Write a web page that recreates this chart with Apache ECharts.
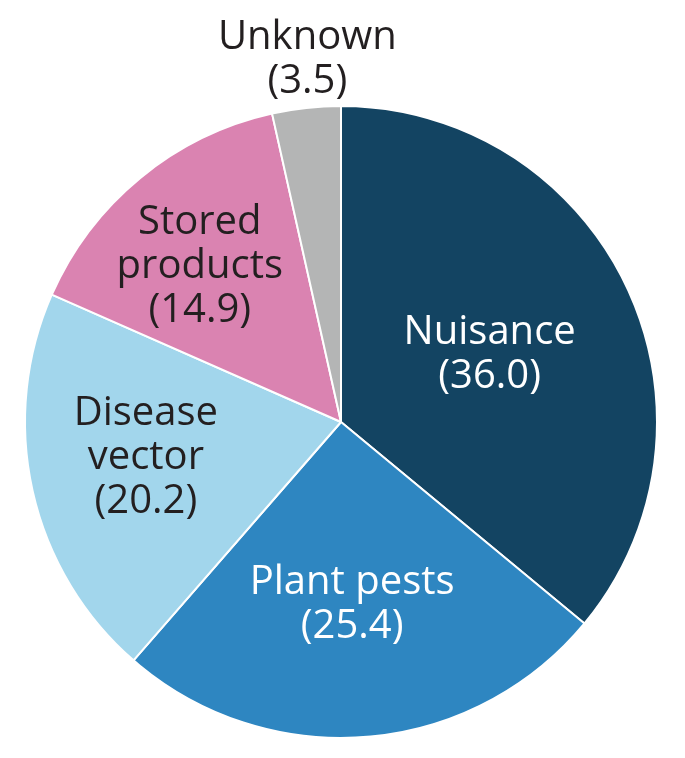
<!DOCTYPE html>
<html lang="en">
  <head>
    <meta charset="UTF-8" />
    <title>Pie</title>
    <style>
      * {
        margin: 0;
        padding: 0;
      }
      #main {
        width: 685px;
        height: 758px;
      }
    </style>
  </head>
  <body>
    <div id="main"></div>
  </body>
  <script src="https://cdn.jsdelivr.net/npm/echarts@6/dist/echarts.min.js"></script>
  <script>
    // 数据
    const categories = ["Nuisance", "Plant pests", "Disease vector", "Stored products", "Unknown"];
    const labelText = ["Nuisance", "Plant pests", "Disease\nvector", "Stored\nproducts", "Unknown"];
    const values = [36.0, 25.4, 20.2, 14.9, 3.5];
    const colors = ["#134462", "#2e86c1", "#a2d6ec", "#da83b1", "#b4b5b5"];
    const textColors = ["#ffffff", "#ffffff", "#231f20", "#231f20", "#231f20"];

    // 标签偏移（相对扇区中点）
    const labelShift = [
      [3, 1],
      [-2, 22],
      [-38, 0],
      [-39, -31],
      [-16, -202],
    ];

    const myChart = echarts.init(document.getElementById("main"));

    const option = {
      backgroundColor: "#fff",
      animation: false,
      series: [
        {
          type: "pie",
          center: [341, 422],
          radius: 316,
          startAngle: 90,
          clockwise: true,
          avoidLabelOverlap: false,
          itemStyle: {
            borderColor: "#fff",
            borderWidth: 2,
          },
          label: {
            show: true,
            position: "inside",
            fontFamily: "Open Sans",
            fontSize: 40,
            lineHeight: 44,
            formatter: (p) => labelText[p.dataIndex] + "\n(" + p.value.toFixed(1) + ")",
          },
          labelLine: { show: false },
          labelLayout: (params) => ({
            dx: labelShift[params.dataIndex][0],
            dy: labelShift[params.dataIndex][1],
          }),
          emphasis: { disabled: true },
          data: categories.map((name, i) => ({
            name: name,
            value: values[i],
            itemStyle: { color: colors[i] },
            label: { color: textColors[i] },
          })),
        },
      ],
    };

    myChart.setOption(option);
  </script>
</html>
